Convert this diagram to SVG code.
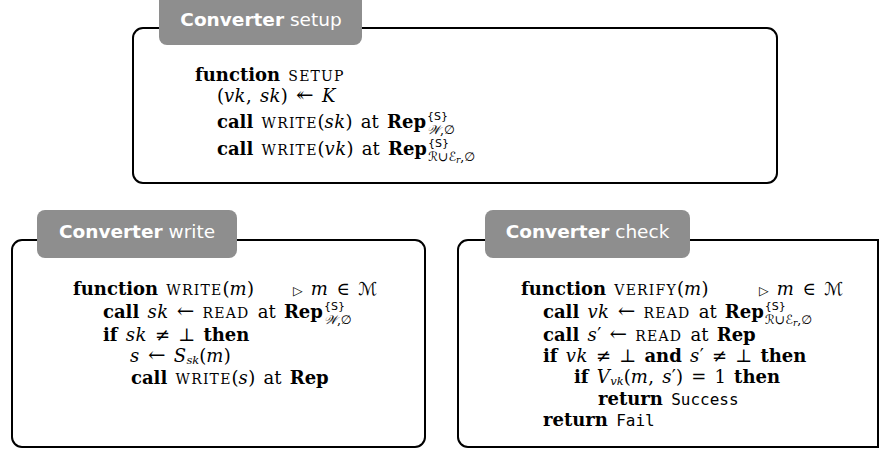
<svg xmlns="http://www.w3.org/2000/svg" width="879" height="451" viewBox="0 0 879 451">
<style>
.box{fill:#fff;stroke:#000;stroke-width:2}
.tab{fill:#8e8e8e}
.tabt{font-family:"DejaVu Sans",sans-serif;font-size:18.5px;fill:#fff;text-anchor:middle}
.bd{font-weight:bold}
.t{font-family:"DejaVu Serif","DejaVu Sans",serif;font-size:18px;fill:#000;word-spacing:2.5px}
.b{font-weight:bold}
.i{font-style:italic;letter-spacing:0.4px}
.sc{font-size:14px;letter-spacing:1.2px}
.ar{font-size:21px}
.sup{font-family:"DejaVu Sans",sans-serif;font-size:11px;word-spacing:0;letter-spacing:0}
.sub{font-size:12.5px;font-style:italic}
.subs{font-size:11.5px;font-style:italic}
.subn{font-size:12.5px}
.ss{font-size:9px;font-style:italic}
.tt{font-family:"DejaVu Sans Mono","Liberation Mono",monospace;font-size:16px}
.tri{font-size:12.5px}
</style>
<g id="connectors"/>
<g id="node-setup">
<rect class="box" x="133" y="28" width="644" height="155" rx="10"/>
<rect class="tab" x="159" y="-8" width="203" height="53" rx="8"/>
<text class="tabt" x="261" y="26"><tspan class="bd">Converter</tspan> setup</text>
<text class="t" x="195" y="81"><tspan class="b">function</tspan> <tspan class="sc">SETUP</tspan></text>
<text class="t" x="217" y="102">(<tspan class="i">vk</tspan>, <tspan class="i">sk</tspan>) <tspan class="ar">↞</tspan> <tspan class="i">K</tspan></text>
<text class="t" x="217" y="128"><tspan class="b">call</tspan> <tspan class="sc">WRITE</tspan>(<tspan class="i">sk</tspan>) at <tspan class="b">Rep</tspan><tspan class="sup" dx="1" dy="-8">{S}</tspan><tspan class="sub" dx="-21" dy="14">𝒲</tspan><tspan class="subn">,∅</tspan></text>
<text class="t" x="217" y="155"><tspan class="b">call</tspan> <tspan class="sc">WRITE</tspan>(<tspan class="i">vk</tspan>) at <tspan class="b">Rep</tspan><tspan class="sup" dx="1" dy="-8">{S}</tspan><tspan class="sub" dx="-21" dy="14">ℛ</tspan><tspan class="subn">∪</tspan><tspan class="sub">ℰ</tspan><tspan class="ss" dy="2">r</tspan><tspan class="subn" dy="-2">,∅</tspan></text>
</g>
<g id="node-write">
<rect class="box" x="12" y="240" width="413" height="207" rx="10"/>
<rect class="tab" x="37" y="210" width="200" height="48" rx="8"/>
<text class="tabt" x="137" y="238"><tspan class="bd">Converter</tspan> write</text>
<text class="t" x="73" y="295"><tspan class="b">function</tspan> <tspan class="sc">WRITE</tspan>(<tspan class="i">m</tspan>)</text>
<text class="t" x="293" y="295"><tspan class="tri">▷</tspan> <tspan class="i">m</tspan> ∈ ℳ</text>
<text class="t" x="103" y="318"><tspan class="b">call</tspan> <tspan class="i">sk</tspan> <tspan class="ar">←</tspan> <tspan class="sc">READ</tspan> at <tspan class="b">Rep</tspan><tspan class="sup" dx="1" dy="-8">{S}</tspan><tspan class="sub" dx="-21" dy="14">𝒲</tspan><tspan class="subn">,∅</tspan></text>
<text class="t" x="103" y="341"><tspan class="b">if</tspan> <tspan class="i">sk</tspan> ≠ ⊥ <tspan class="b">then</tspan></text>
<text class="t" x="130" y="362"><tspan class="i">s</tspan> <tspan class="ar">←</tspan> <tspan class="i">S</tspan><tspan class="subs" dy="2">sk</tspan><tspan dy="-2">(</tspan><tspan class="i">m</tspan>)</text>
<text class="t" x="131" y="384"><tspan class="b">call</tspan> <tspan class="sc">WRITE</tspan>(<tspan class="i">s</tspan>) at <tspan class="b">Rep</tspan></text>
</g>
<g id="node-check">
<path class="box" d="M878 240 H468 A10 10 0 0 0 458 250 V437 A10 10 0 0 0 468 447 H878 Z"/>
<rect class="tab" x="485" y="210" width="205" height="48" rx="8"/>
<text class="tabt" x="587.5" y="238"><tspan class="bd">Converter</tspan> check</text>
<text class="t" x="521" y="295"><tspan class="b">function</tspan> <tspan class="sc">VERIFY</tspan>(<tspan class="i">m</tspan>)</text>
<text class="t" x="759" y="295"><tspan class="tri">▷</tspan> <tspan class="i">m</tspan> ∈ ℳ</text>
<text class="t" x="543" y="318"><tspan class="b">call</tspan> <tspan class="i">vk</tspan> <tspan class="ar">←</tspan> <tspan class="sc">READ</tspan> at <tspan class="b">Rep</tspan><tspan class="sup" dx="1" dy="-8">{S}</tspan><tspan class="sub" dx="-21" dy="14">ℛ</tspan><tspan class="subn">∪</tspan><tspan class="sub">ℰ</tspan><tspan class="ss" dy="2">r</tspan><tspan class="subn" dy="-2">,∅</tspan></text>
<text class="t" x="543" y="341"><tspan class="b">call</tspan> <tspan class="i">s</tspan>′ <tspan class="ar">←</tspan> <tspan class="sc">READ</tspan> at <tspan class="b">Rep</tspan></text>
<text class="t" x="543" y="362"><tspan class="b">if</tspan> <tspan class="i">vk</tspan> ≠ ⊥ <tspan class="b">and</tspan> <tspan class="i">s</tspan>′ ≠ ⊥ <tspan class="b">then</tspan></text>
<text class="t" x="574" y="383"><tspan class="b">if</tspan> <tspan class="i">V</tspan><tspan class="subs" dy="2">vk</tspan><tspan dy="-2">(</tspan><tspan class="i">m</tspan>, <tspan class="i">s</tspan>′) = 1 <tspan class="b">then</tspan></text>
<text class="t" x="598" y="405"><tspan class="b">return</tspan> <tspan class="tt">Success</tspan></text>
<text class="t" x="543" y="426"><tspan class="b">return</tspan> <tspan class="tt">Fail</tspan></text>
</g>
</svg>
